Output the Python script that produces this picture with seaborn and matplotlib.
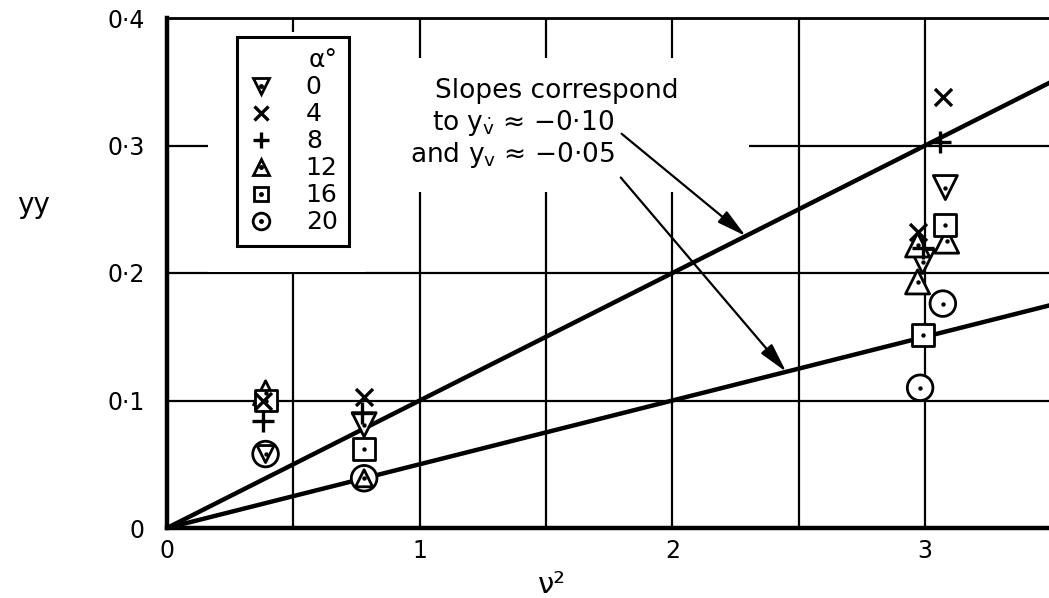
import matplotlib
matplotlib.use("Agg")
import matplotlib.pyplot as plt
import seaborn as sns
from matplotlib.lines import Line2D
from matplotlib.patches import Rectangle
from matplotlib.legend_handler import HandlerTuple

# incidence angle (deg) of each run series
alpha_labels = ["0", "4", "8", "12", "16", "20"]

# measured yy against nu^2 for each incidence
nu2_a0 = [0.39, 0.78, 2.99, 3.08]
yy_a0 = [0.058, 0.081, 0.209, 0.267]
nu2_a4 = [0.38, 0.78, 2.97, 3.07]
yy_a4 = [0.100, 0.103, 0.232, 0.338]
nu2_a8 = [0.38, 0.77, 2.99, 3.06]
yy_a8 = [0.084, 0.090, 0.220, 0.303]
nu2_a12 = [0.39, 0.78, 2.97, 2.97, 3.085]
yy_a12 = [0.106, 0.039, 0.222, 0.193, 0.225]
nu2_a16 = [0.39, 0.78, 2.99, 3.08]
yy_a16 = [0.100, 0.062, 0.151, 0.238]
nu2_a20 = [0.39, 0.78, 2.98, 3.07]
yy_a20 = [0.058, 0.039, 0.110, 0.176]

# slopes of the two straight reference lines through the origin
ref_slopes = [0.10, 0.05]
ref_x = [0.0, 3.5]

x_ticks = [0, 1, 2, 3]
x_tick_labels = ["0", "1", "2", "3"]
x_half_ticks = [0.5, 1.5, 2.5]
y_ticks = [0, 0.1, 0.2, 0.3, 0.4]
y_tick_labels = ["0", "0·1", "0·2", "0·3", "0·4"]

series = [
    ("0", nu2_a0, yy_a0, "v", True),
    ("4", nu2_a4, yy_a4, "x", False),
    ("8", nu2_a8, yy_a8, "+", False),
    ("12", nu2_a12, yy_a12, "^", True),
    ("16", nu2_a16, yy_a16, "s", True),
    ("20", nu2_a20, yy_a20, "o", True),
]
marker_size = {"v": 300, "x": 150, "+": 230, "^": 300, "s": 250, "o": 340}
inner_size = 150  # triangle drawn inside a circle at the same point
legend_ms = {"v": 11, "x": 10, "+": 12, "^": 11, "s": 10, "o": 12}
# circles sit underneath so triangles plotted at the same spot show inside them
marker_z = {"v": 4, "x": 5, "+": 5, "^": 4, "s": 4, "o": 3.5}

sns.set_style("white")
plt.rcParams["font.family"] = ["DejaVu Sans"]
plt.rcParams["text.color"] = "black"
plt.rcParams["axes.labelcolor"] = "black"
plt.rcParams["mathtext.fontset"] = "custom"
plt.rcParams["mathtext.rm"] = "DejaVu Sans"
plt.rcParams["mathtext.it"] = "DejaVu Sans"
plt.rcParams["mathtext.bf"] = "DejaVu Sans:bold"

W, H = 1049, 598
fig = plt.figure(figsize=(W / 100, H / 100), dpi=100)
PX0, PX1, PY0, PY1 = 167, 1049, 18, 528
XMAX, YMAX = 3.49, 0.4
ax = fig.add_axes([PX0 / W, 1 - PY1 / H, (PX1 - PX0) / W, (PY1 - PY0) / H])
ax.set_xlim(0, XMAX)
ax.set_ylim(0, YMAX)


def to_data(px, py):
    return ((px - PX0) / (PX1 - PX0) * XMAX, (PY1 - py) / (PY1 - PY0) * YMAX)


def to_axes(px, py):
    return ((px - PX0) / (PX1 - PX0), (PY1 - py) / (PY1 - PY0))


# grid
ax.set_xticks(x_ticks)
ax.set_xticklabels(x_tick_labels)
ax.set_xticks(x_half_ticks, minor=True)
ax.set_yticks(y_ticks)
ax.set_yticklabels(y_tick_labels)
ax.tick_params(which="both", length=0, labelsize=17, colors="black")
ax.tick_params(axis="y", pad=16)
ax.tick_params(axis="x", pad=8)
ax.grid(True, which="both", color="black", linewidth=1.6)
ax.set_axisbelow(True)

# white gaps in the grid behind the key and the note
for (pa, pb) in [((208, 32), (365, 272)), ((365, 58), (749, 192))]:
    xa, ya = to_data(pa[0], pb[1])
    xb, yb = to_data(pb[0], pa[1])
    ax.add_patch(Rectangle((xa, ya), xb - xa, yb - ya, facecolor="white",
                           edgecolor="none", zorder=1))

for side in ["left", "bottom"]:
    ax.spines[side].set_linewidth(3.2)
    ax.spines[side].set_color("black")
ax.spines["top"].set_linewidth(2.0)
ax.spines["top"].set_color("black")
ax.spines["right"].set_visible(False)

# reference lines
for k in ref_slopes:
    ref_y = [k * xv for xv in ref_x]
    sns.lineplot(x=ref_x, y=ref_y, ax=ax, color="black", linewidth=3.2,
                 zorder=2, legend=False)


def inside_circle(xv, yv):
    return any(abs(xv - cx) < 0.02 and abs(yv - cy) < 0.005
               for cx, cy in zip(nu2_a20, yy_a20))


# data points
for lab, xs, ys, m, filled in series:
    z = marker_z[m]
    if filled:
        sizes = [inner_size if (m in "v^" and inside_circle(xv, yv))
                 else marker_size[m] for xv, yv in zip(xs, ys)]
        size_range = (min(sizes), max(sizes))
        sns.scatterplot(x=xs, y=ys, ax=ax, marker=m, size=sizes,
                        sizes=size_range, color="white", edgecolor="black",
                        linewidth=2.0, zorder=z, legend=False)
        sns.scatterplot(x=xs, y=ys, ax=ax, marker="o", s=10, color="black",
                        linewidth=0, zorder=z + 0.05, legend=False)
    else:
        sns.scatterplot(x=xs, y=ys, ax=ax, marker=m, s=marker_size[m],
                        color="black", linewidth=2.4, zorder=z, legend=False)

# key
handles = []
for lab, xs, ys, m, filled in series:
    if filled:
        h1 = Line2D([], [], marker=m, ls="", ms=legend_ms[m], mfc="white",
                    mec="black", mew=2.0)
        h2 = Line2D([], [], marker="o", ls="", ms=2.5, mfc="black", mec="black")
        handles.append((h1, h2))
    else:
        handles.append(Line2D([], [], marker=m, ls="", ms=legend_ms[m],
                              color="black", mew=2.4))
leg = ax.legend(handles, alpha_labels, title="α°", loc="upper left",
                bbox_to_anchor=to_axes(237, 37), borderaxespad=0,
                fontsize=18, title_fontsize=18, frameon=True, fancybox=False,
                framealpha=1, edgecolor="black", facecolor="white",
                borderpad=0.45, handlelength=1.0, handletextpad=1.3,
                labelspacing=0.12, alignment="right",
                handler_map={tuple: HandlerTuple(ndivide=1, pad=0)})
leg.get_frame().set_linewidth(2.2)
leg.set_zorder(6)

# note with arrows onto the two lines
ax.text(*to_data(557, 91), "Slopes correspond", ha="center", va="center",
        fontsize=19, color="black", zorder=6)
tip1 = 2.29
ax.annotate("to $y_{\\dot{v}}$ ≈ −0·10", xy=(tip1, ref_slopes[0] * tip1),
            xytext=to_data(523, 123), ha="center", va="center", fontsize=19,
            color="black", zorder=6,
            arrowprops=dict(arrowstyle="-|>,head_length=0.9,head_width=0.22",
                            lw=1.6, color="black", shrinkA=4, shrinkB=0,
                            relpos=(1.0, 0.35), mutation_scale=20))
tip2 = 2.45
ax.annotate("and $y_v$ ≈ −0·05", xy=(tip2, ref_slopes[1] * tip2),
            xytext=to_data(512, 155), ha="center", va="center", fontsize=19,
            color="black", zorder=6,
            arrowprops=dict(arrowstyle="-|>,head_length=0.9,head_width=0.22",
                            lw=1.6, color="black", shrinkA=4, shrinkB=0,
                            relpos=(1.0, 0.0), mutation_scale=20))

# axis titles
ax.set_xlabel("ν²", fontsize=21, color="black")
ax.xaxis.set_label_coords(*to_axes(552, 585))
ax.xaxis.label.set_va("center")
ax.set_ylabel("yy", fontsize=20, rotation=0, color="black")
ax.yaxis.set_label_coords(*to_axes(33, 205))
ax.yaxis.label.set_va("center")
ax.yaxis.label.set_ha("center")

fig.savefig("out.png", dpi=100, facecolor="white")
